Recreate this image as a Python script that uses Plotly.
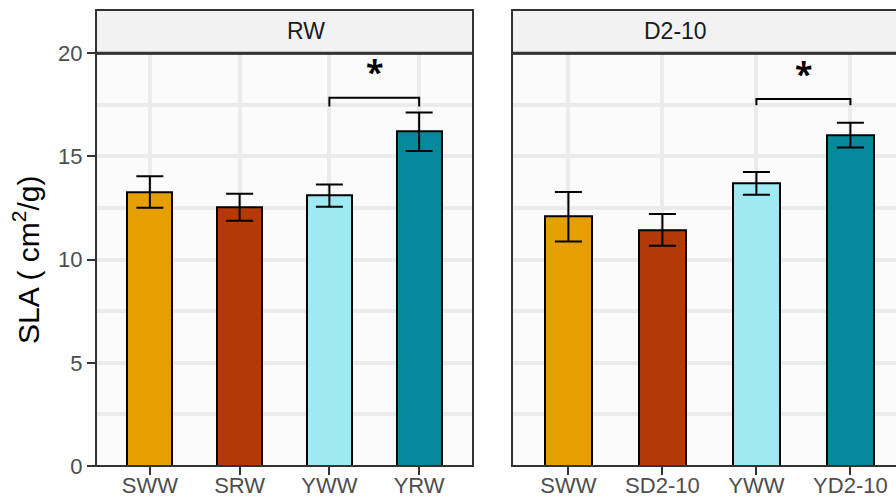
import plotly.graph_objects as go

# Specific leaf area by group, two water regimes
rw_groups = ["SWW", "SRW", "YWW", "YRW"]
rw_mean = [13.28, 12.54, 13.10, 16.20]
rw_se = [0.76, 0.65, 0.54, 0.93]

d2_groups = ["SWW", "SD2-10", "YWW", "YD2-10"]
d2_mean = [12.08, 11.44, 13.70, 16.04]
d2_se = [1.20, 0.77, 0.55, 0.60]

bar_colors = ["#E69F00", "#B33A06", "#9EEAF2", "#07889B"]
panel_titles = ["RW", "D2-10"]

# significance brackets: (pair, bracket height, tip height, star height)
rw_bracket = (["YWW", "YRW"], 17.85, 17.42, 19.1)
d2_bracket = (["YWW", "YD2-10"], 17.78, 17.48, 19.0)

W, H = 896, 500
px_x = lambda v: v / W
px_y = lambda v: 1 - v / H

panel_top, panel_bot = 53.3, 466
left_x0, left_x1 = 96, 473
right_x0 = 512
right_scale = 94.0  # px per category on the right panel

fig = go.Figure()

for i, (groups, mean, se) in enumerate([(rw_groups, rw_mean, rw_se), (d2_groups, d2_mean, d2_se)]):
    ax = "" if i == 0 else "2"
    fig.add_trace(go.Bar(
        x=groups, y=mean, width=0.5,
        marker=dict(color=bar_colors, line=dict(color="black", width=2)),
        error_y=dict(type="data", array=se, color="black", thickness=2, width=13.5),
        xaxis="x" + ax, yaxis="y" + ax, showlegend=False,
    ))

for i, (pair, yb, yt, ys) in enumerate([rw_bracket, d2_bracket]):
    ax = "" if i == 0 else "2"
    fig.add_trace(go.Scatter(
        x=[pair[0], pair[0], pair[1], pair[1]], y=[yt, yb, yb, yt],
        mode="lines", line=dict(color="black", width=2),
        xaxis="x" + ax, yaxis="y" + ax, showlegend=False, hoverinfo="skip",
    ))
    fig.add_annotation(x=2.5, y=ys, xref="x" + ax, yref="y" + ax, text="<b>*</b>",
                       showarrow=False, font=dict(size=32, color="black"),
                       yanchor="middle")

tick_font = dict(family="Liberation Sans, Arial", size=22, color="#4D4D4D")
grid = dict(showgrid=True, gridcolor="#EBEBEB", gridwidth=4, zeroline=False)
xcommon = dict(type="category", ticks="outside", ticklen=8, tickwidth=2, tickcolor="#333333",
               tickfont=tick_font, showline=False, automargin=False,
               ticklabelstandoff=-8, **grid)
ycommon = dict(range=[0, 20], tickvals=[0, 5, 10, 15, 20], ticklen=8,
               tickwidth=2, tickcolor="#333333", tickfont=tick_font, showline=False,
               automargin=False,
               minor=dict(dtick=2.5, tick0=0, showgrid=True, gridcolor="#EBEBEB", gridwidth=4),
               domain=[px_y(panel_bot), px_y(panel_top)], **grid)

right_hi = -0.6 + (W - right_x0) / right_scale
fig.update_layout(
    width=W, height=H,
    margin=dict(l=0, r=0, t=0, b=0, autoexpand=False),
    paper_bgcolor="white", plot_bgcolor="#FBFBFB",
    bargap=0,
    xaxis=dict(domain=[px_x(left_x0), px_x(left_x1)], range=[-0.6, 3.6],
               categoryorder="array", categoryarray=rw_groups, anchor="y", **xcommon),
    xaxis2=dict(domain=[px_x(right_x0), 1], range=[-0.6, right_hi],
                categoryorder="array", categoryarray=d2_groups, anchor="y2", **xcommon),
    yaxis=dict(anchor="x", ticks="outside", **ycommon),
    yaxis2=dict(anchor="x2", matches="y", showticklabels=False, ticks="", **ycommon),
)

# panel borders and facet strips
right_x1 = right_x0 + 4.2 * right_scale
for x0, x1, title in [(left_x0, left_x1, panel_titles[0]), (right_x0, right_x1, panel_titles[1])]:
    fig.add_shape(type="rect", xref="paper", yref="paper",
                  x0=px_x(x0), x1=px_x(x1), y0=px_y(panel_bot), y1=px_y(panel_top),
                  line=dict(color="#333333", width=2), fillcolor="rgba(0,0,0,0)", layer="above")
    fig.add_shape(type="rect", xref="paper", yref="paper",
                  x0=px_x(x0), x1=px_x(x1), y0=px_y(panel_top), y1=px_y(10),
                  line=dict(color="#333333", width=2), fillcolor="#F2F2F2", layer="above")
    fig.add_shape(type="line", xref="paper", yref="paper",
                  x0=px_x(x0), x1=px_x(x1), y0=px_y(panel_top), y1=px_y(panel_top),
                  line=dict(color="#333333", width=3), layer="above")
    fig.add_annotation(x=px_x((x0 + x1) / 2), y=px_y(31.5), xref="paper", yref="paper",
                       text=title, showarrow=False, yanchor="middle",
                       font=dict(family="Liberation Sans, Arial", size=23, color="#1A1A1A"))

fig.add_annotation(x=px_x(26), y=px_y(260), xref="paper", yref="paper",
                   text="SLA ( cm<sup>2</sup>/g)", textangle=-90, showarrow=False,
                   xanchor="center", yanchor="middle",
                   font=dict(family="Liberation Sans, Arial", size=30, color="black"))

fig.write_html("out.html")
